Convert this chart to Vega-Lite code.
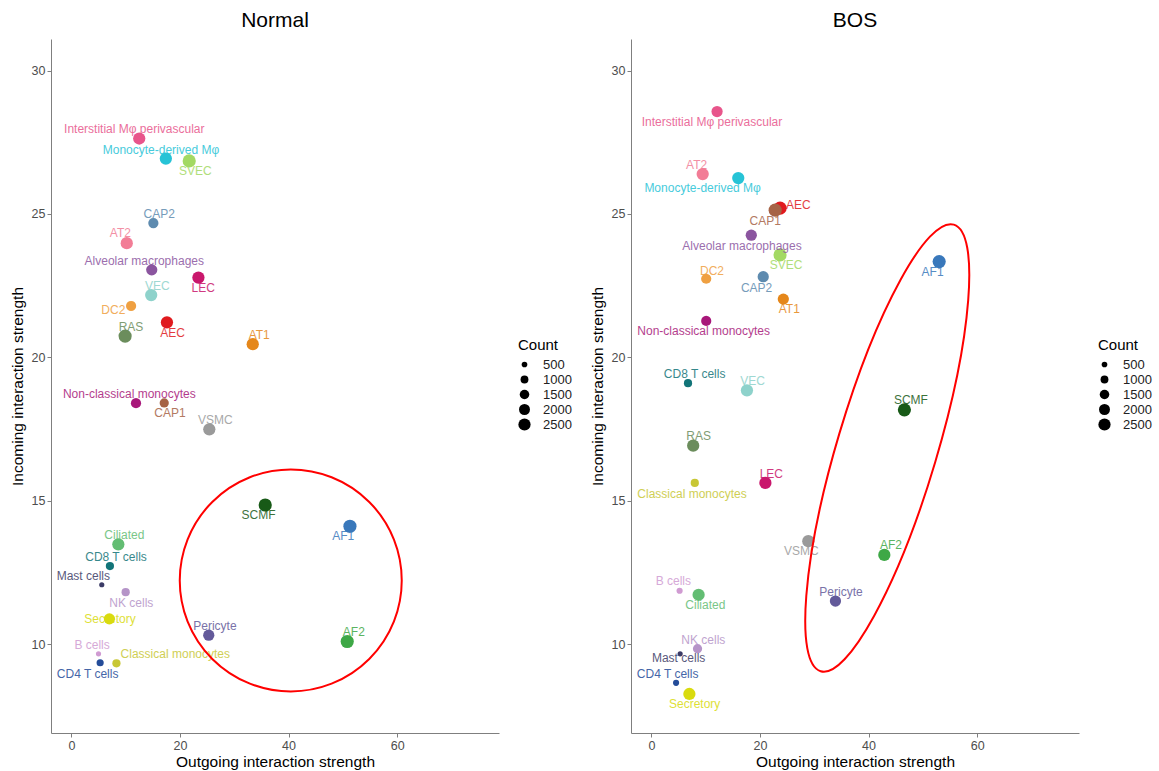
{
  "$schema": "https://vega.github.io/schema/vega-lite/v6.json",
  "background": "white",
  "padding": {"left": 10, "top": 10, "right": 2, "bottom": 2},
  "bounds": "flush",
  "spacing": 132,
  "config": {
    "font": "Liberation Sans",
    "view": {"stroke": null},
    "axis": {"grid": false, "domainColor": "#7F7F7F", "tickColor": "#7F7F7F", "labelColor": "#4D4D4D", "labelFontSize": 12.5, "titleFontSize": 15.5, "titleFontWeight": "normal", "titleColor": "black", "tickSize": 4, "labelPadding": 2},
    "axisX": {"titlePadding": 3},
    "axisY": {"titlePadding": 6},
    "title": {"fontSize": 21, "fontWeight": "normal", "anchor": "middle", "offset": 8, "color": "black"}
  },
  "datasets": {
    "cells": [
      {"cond": "Normal", "cell": "Interstitial Mφ perivascular", "x": 12.5, "y": 27.63, "count": 2500, "lx": 11.59, "ly": 27.96},
      {"cond": "Normal", "cell": "Monocyte-derived Mφ", "x": 17.4, "y": 26.93, "count": 2500, "lx": 16.5, "ly": 27.24},
      {"cond": "Normal", "cell": "SVEC", "x": 21.7, "y": 26.85, "count": 2900, "lx": 22.82, "ly": 26.48},
      {"cond": "Normal", "cell": "CAP2", "x": 15.1, "y": 24.68, "count": 1730, "lx": 16.19, "ly": 25.0},
      {"cond": "Normal", "cell": "AT2", "x": 10.2, "y": 23.98, "count": 2500, "lx": 9.02, "ly": 24.32},
      {"cond": "Normal", "cell": "Alveolar macrophages", "x": 14.8, "y": 23.05, "count": 2100, "lx": 13.43, "ly": 23.36},
      {"cond": "Normal", "cell": "LEC", "x": 23.4, "y": 22.78, "count": 2500, "lx": 24.29, "ly": 22.43},
      {"cond": "Normal", "cell": "VEC", "x": 14.7, "y": 22.17, "count": 2500, "lx": 15.82, "ly": 22.48},
      {"cond": "Normal", "cell": "DC2", "x": 11.0, "y": 21.79, "count": 1730, "lx": 7.73, "ly": 21.64},
      {"cond": "Normal", "cell": "RAS", "x": 9.9, "y": 20.74, "count": 2900, "lx": 10.98, "ly": 21.04},
      {"cond": "Normal", "cell": "AEC", "x": 17.6, "y": 21.22, "count": 2500, "lx": 18.64, "ly": 20.86},
      {"cond": "Normal", "cell": "AT1", "x": 33.4, "y": 20.46, "count": 2500, "lx": 34.59, "ly": 20.78},
      {"cond": "Normal", "cell": "Non-classical monocytes", "x": 11.9, "y": 18.4, "count": 1730, "lx": 10.67, "ly": 18.71},
      {"cond": "Normal", "cell": "CAP1", "x": 17.1, "y": 18.41, "count": 1400, "lx": 18.16, "ly": 18.05},
      {"cond": "Normal", "cell": "VSMC", "x": 25.4, "y": 17.49, "count": 2500, "lx": 26.5, "ly": 17.82},
      {"cond": "Normal", "cell": "SCMF", "x": 35.7, "y": 14.85, "count": 2900, "lx": 34.46, "ly": 14.5},
      {"cond": "Normal", "cell": "AF1", "x": 51.3, "y": 14.11, "count": 2900, "lx": 50.05, "ly": 13.77},
      {"cond": "Normal", "cell": "Ciliated", "x": 8.65, "y": 13.48, "count": 2500, "lx": 9.75, "ly": 13.79},
      {"cond": "Normal", "cell": "CD8 T cells", "x": 7.1, "y": 12.72, "count": 1100, "lx": 8.22, "ly": 13.04},
      {"cond": "Normal", "cell": "Mast cells", "x": 5.6, "y": 12.07, "count": 410, "lx": 2.21, "ly": 12.37},
      {"cond": "Normal", "cell": "NK cells", "x": 10.0, "y": 11.81, "count": 1100, "lx": 11.04, "ly": 11.44},
      {"cond": "Normal", "cell": "Secretory", "x": 7.0, "y": 10.88, "count": 2100, "lx": 7.12, "ly": 10.86},
      {"cond": "Normal", "cell": "Pericyte", "x": 25.3, "y": 10.31, "count": 2100, "lx": 26.44, "ly": 10.63},
      {"cond": "Normal", "cell": "AF2", "x": 50.8, "y": 10.09, "count": 2900, "lx": 52.01, "ly": 10.41},
      {"cond": "Normal", "cell": "B cells", "x": 5.0, "y": 9.66, "count": 410, "lx": 3.81, "ly": 9.97},
      {"cond": "Normal", "cell": "Classical monocytes", "x": 8.3, "y": 9.33, "count": 1100, "lx": 19.14, "ly": 9.64},
      {"cond": "Normal", "cell": "CD4 T cells", "x": 5.3, "y": 9.35, "count": 830, "lx": 3.0, "ly": 8.96},
      {"cond": "BOS", "cell": "Interstitial Mφ perivascular", "x": 12.1, "y": 28.57, "count": 2100, "lx": 11.17, "ly": 28.21},
      {"cond": "BOS", "cell": "AT2", "x": 9.45, "y": 26.39, "count": 2500, "lx": 8.34, "ly": 26.71},
      {"cond": "BOS", "cell": "Monocyte-derived Mφ", "x": 16.0, "y": 26.25, "count": 2500, "lx": 9.44, "ly": 25.89},
      {"cond": "BOS", "cell": "AEC", "x": 23.7, "y": 25.2, "count": 2900, "lx": 27.06, "ly": 25.31},
      {"cond": "BOS", "cell": "CAP1", "x": 22.8, "y": 25.13, "count": 2900, "lx": 20.98, "ly": 24.76},
      {"cond": "BOS", "cell": "Alveolar macrophages", "x": 18.4, "y": 24.26, "count": 2100, "lx": 16.69, "ly": 23.89},
      {"cond": "BOS", "cell": "SVEC", "x": 23.7, "y": 23.57, "count": 2900, "lx": 24.79, "ly": 23.22},
      {"cond": "BOS", "cell": "DC2", "x": 10.1, "y": 22.74, "count": 1730, "lx": 11.17, "ly": 23.01},
      {"cond": "BOS", "cell": "CAP2", "x": 20.6, "y": 22.81, "count": 2100, "lx": 19.38, "ly": 22.41},
      {"cond": "BOS", "cell": "AT1", "x": 24.3, "y": 22.03, "count": 2100, "lx": 25.4, "ly": 21.68},
      {"cond": "BOS", "cell": "Non-classical monocytes", "x": 10.1, "y": 21.27, "count": 1730, "lx": 9.63, "ly": 20.92},
      {"cond": "BOS", "cell": "AF1", "x": 53.0, "y": 23.34, "count": 2900, "lx": 51.78, "ly": 22.99},
      {"cond": "BOS", "cell": "SCMF", "x": 46.6, "y": 18.17, "count": 2900, "lx": 47.8, "ly": 18.5},
      {"cond": "BOS", "cell": "CD8 T cells", "x": 6.75, "y": 19.1, "count": 1100, "lx": 7.97, "ly": 19.43},
      {"cond": "BOS", "cell": "VEC", "x": 17.6, "y": 18.85, "count": 2500, "lx": 18.65, "ly": 19.18},
      {"cond": "BOS", "cell": "RAS", "x": 7.7, "y": 16.92, "count": 2500, "lx": 8.71, "ly": 17.25},
      {"cond": "BOS", "cell": "LEC", "x": 21.0, "y": 15.62, "count": 2500, "lx": 22.09, "ly": 15.94},
      {"cond": "BOS", "cell": "Classical monocytes", "x": 8.0, "y": 15.62, "count": 1100, "lx": 7.49, "ly": 15.24},
      {"cond": "BOS", "cell": "VSMC", "x": 28.9, "y": 13.59, "count": 2500, "lx": 27.61, "ly": 13.24},
      {"cond": "BOS", "cell": "AF2", "x": 42.9, "y": 13.11, "count": 2500, "lx": 44.12, "ly": 13.45},
      {"cond": "BOS", "cell": "Pericyte", "x": 33.9, "y": 11.5, "count": 2100, "lx": 34.92, "ly": 11.82},
      {"cond": "BOS", "cell": "B cells", "x": 5.2, "y": 11.86, "count": 600, "lx": 4.05, "ly": 12.2},
      {"cond": "BOS", "cell": "Ciliated", "x": 8.7, "y": 11.72, "count": 2500, "lx": 9.94, "ly": 11.37},
      {"cond": "BOS", "cell": "NK cells", "x": 8.5, "y": 9.84, "count": 1400, "lx": 9.57, "ly": 10.14},
      {"cond": "BOS", "cell": "Mast cells", "x": 5.3, "y": 9.66, "count": 410, "lx": 5.02, "ly": 9.52},
      {"cond": "BOS", "cell": "CD4 T cells", "x": 4.55, "y": 8.65, "count": 600, "lx": 3.0, "ly": 8.96},
      {"cond": "BOS", "cell": "Secretory", "x": 7.0, "y": 8.26, "count": 2500, "lx": 7.97, "ly": 7.9}
    ],
    "ann_normal": [{"x": 40.4, "y": 12.22}],
    "ann_bos": [{"x": 43.44, "y": 16.84}]
  },
  "hconcat": [
    {
      "title": "Normal",
      "width": 448,
      "height": 694,
      "layer": [
        {
          "data": {"name": "cells"},
          "transform": [{"filter": "datum.cond === 'Normal'"}],
          "mark": {"type": "circle", "opacity": 1},
          "encoding": {
            "x": {"field": "x", "type": "quantitative", "scale": {"domain": [-3.75, 78.75], "nice": false, "zero": false}, "axis": {"values": [0, 20, 40, 60], "title": "Outgoing interaction strength"}},
            "y": {"field": "y", "type": "quantitative", "scale": {"domain": [6.9, 31.1], "nice": false, "zero": false}, "axis": {"values": [10, 15, 20, 25, 30], "title": "Incoming interaction strength"}},
            "size": {"field": "count", "type": "quantitative", "title": "Count", "scale": {"domain": [500, 2500], "range": [32, 150], "zero": false}, "legend": {"orient": "none", "legendX": 467, "legendY": 299, "values": [500, 1000, 1500, 2000, 2500], "format": "d", "titleFontSize": 15, "titleFontWeight": "normal", "titleColor": "black", "labelFontSize": 13, "labelColor": "#222222", "symbolType": "circle", "symbolFillColor": "black", "symbolStrokeColor": "black", "symbolStrokeWidth": 0, "symbolOpacity": 1, "labelOffset": 12, "rowPadding": 1}},
            "color": {"field": "cell", "type": "nominal", "legend": null, "scale": {
              "domain": ["Interstitial Mφ perivascular", "Monocyte-derived Mφ", "SVEC", "CAP2", "AT2", "Alveolar macrophages", "LEC", "VEC", "DC2", "RAS", "AEC", "AT1", "Non-classical monocytes", "CAP1", "VSMC", "SCMF", "AF1", "Ciliated", "CD8 T cells", "Mast cells", "NK cells", "Secretory", "Pericyte", "AF2", "B cells", "Classical monocytes", "CD4 T cells"],
              "range": ["#E8558B", "#26C3D6", "#A3D964", "#5E8BAF", "#F27D96", "#8B559F", "#C9176C", "#8ED2CB", "#EFA041", "#6B8D5C", "#E01A1E", "#E5871A", "#A8177A", "#A66346", "#9A9A9A", "#185A17", "#3978BB", "#63BD73", "#127478", "#3B3B66", "#B594C8", "#D9DB0F", "#635A9A", "#3EA846", "#D09BD2", "#C8C735", "#244C99"]}}
          }
        },
        {
          "data": {"name": "cells"},
          "transform": [{"filter": "datum.cond === 'Normal'"}],
          "mark": {"type": "text", "fontSize": 12, "baseline": "middle", "align": "center", "opacity": 0.85},
          "encoding": {
            "x": {"field": "lx", "type": "quantitative"},
            "y": {"field": "ly", "type": "quantitative"},
            "text": {"field": "cell"},
            "color": {"field": "cell", "type": "nominal", "legend": null}
          }
        },
        {
          "data": {"name": "ann_normal"},
          "mark": {"type": "point", "shape": "circle", "size": 49284, "filled": false, "color": "#FF0000", "strokeWidth": 2, "opacity": 1},
          "encoding": {
            "x": {"field": "x", "type": "quantitative"},
            "y": {"field": "y", "type": "quantitative"}
          }
        }
      ]
    },
    {
      "title": "BOS",
      "width": 448,
      "height": 694,
      "layer": [
        {
          "data": {"name": "cells"},
          "transform": [{"filter": "datum.cond === 'BOS'"}],
          "mark": {"type": "circle", "opacity": 1},
          "encoding": {
            "x": {"field": "x", "type": "quantitative", "scale": {"domain": [-3.75, 78.75], "nice": false, "zero": false}, "axis": {"values": [0, 20, 40, 60], "title": "Outgoing interaction strength"}},
            "y": {"field": "y", "type": "quantitative", "scale": {"domain": [6.9, 31.1], "nice": false, "zero": false}, "axis": {"values": [10, 15, 20, 25, 30], "title": "Incoming interaction strength"}},
            "size": {"field": "count", "type": "quantitative", "title": "Count", "scale": {"domain": [500, 2500], "range": [32, 150], "zero": false}, "legend": {"orient": "none", "legendX": 467, "legendY": 299, "values": [500, 1000, 1500, 2000, 2500], "format": "d", "titleFontSize": 15, "titleFontWeight": "normal", "titleColor": "black", "labelFontSize": 13, "labelColor": "#222222", "symbolType": "circle", "symbolFillColor": "black", "symbolStrokeColor": "black", "symbolStrokeWidth": 0, "symbolOpacity": 1, "labelOffset": 12, "rowPadding": 1}},
            "color": {"field": "cell", "type": "nominal", "legend": null}
          }
        },
        {
          "data": {"name": "cells"},
          "transform": [{"filter": "datum.cond === 'BOS'"}],
          "mark": {"type": "text", "fontSize": 12, "baseline": "middle", "align": "center", "opacity": 0.85},
          "encoding": {
            "x": {"field": "lx", "type": "quantitative"},
            "y": {"field": "ly", "type": "quantitative"},
            "text": {"field": "cell"},
            "color": {"field": "cell", "type": "nominal", "legend": null}
          }
        },
        {
          "data": {"name": "ann_bos"},
          "mark": {"type": "point", "shape": "M0,-1C0.1185,-1,0.2146,-0.5523,0.2146,0C0.2146,0.5523,0.1185,1,0,1C-0.1185,1,-0.2146,0.5523,-0.2146,0C-0.2146,-0.5523,-0.1185,-1,0,-1Z", "size": 217156, "angle": 16.6, "filled": false, "color": "#FF0000", "strokeWidth": 2, "opacity": 1},
          "encoding": {
            "x": {"field": "x", "type": "quantitative"},
            "y": {"field": "y", "type": "quantitative"}
          }
        }
      ]
    }
  ],
  "resolve": {"scale": {"size": "independent"}, "legend": {"size": "independent"}}
}
